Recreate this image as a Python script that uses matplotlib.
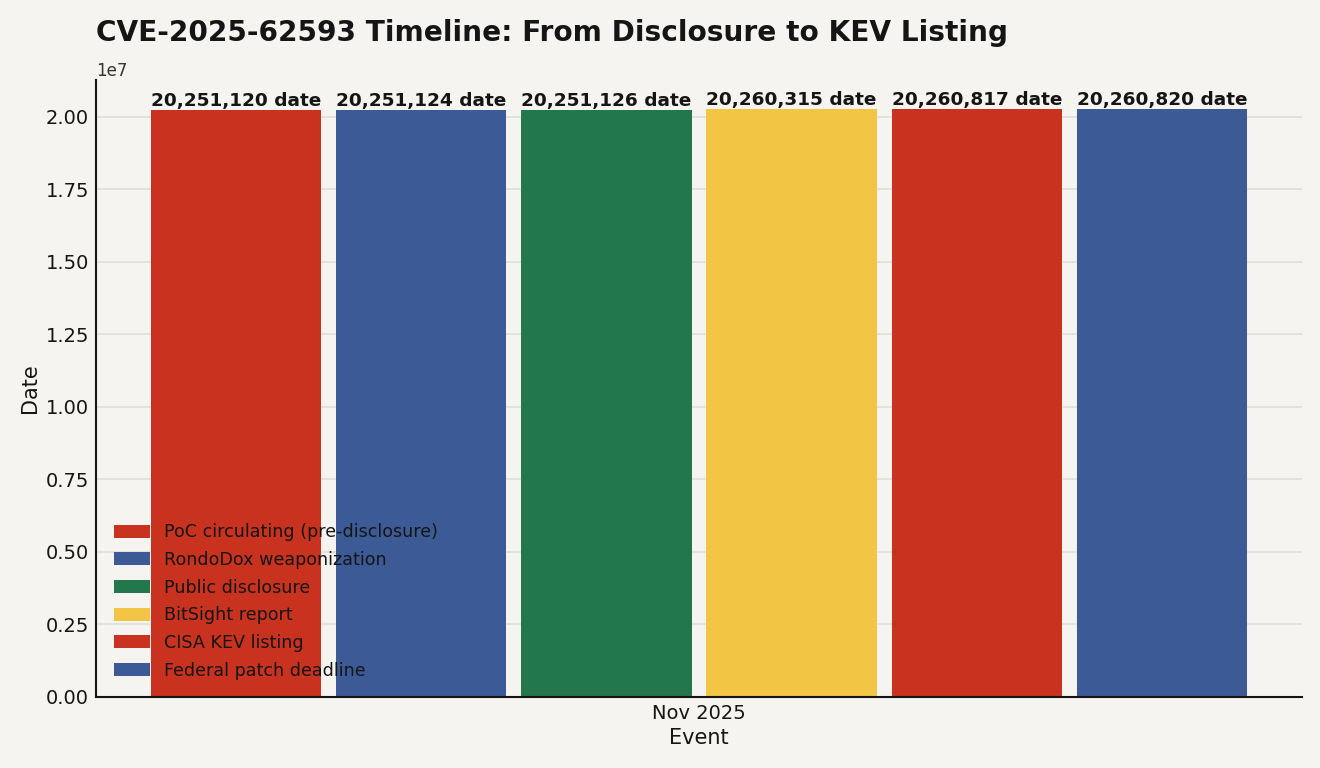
import numpy as np
import matplotlib
matplotlib.use("Agg")
from matplotlib import pyplot as plt

# Datos del grafico (fechas codificadas como numero AAAAMMDD)
eventos = ["PoC circulating (pre-disclosure)", "RondoDox weaponization",
           "Public disclosure", "BitSight report", "CISA KEV listing",
           "Federal patch deadline"]
valores = [20251120, 20251124, 20251126, 20260315, 20260817, 20260820]
colores = ["#C8321F", "#3C5A96", "#22784C", "#F3C544", "#C8321F", "#3C5A96"]
etiqueta_x = ["Nov 2025"]

fondo = "#F5F4F0"
texto = "#151515"

fig = plt.figure(figsize=(13.2, 7.68), dpi=100, facecolor=fondo)
ax = fig.add_axes([96/1320, 1 - 697/768, (1302-96)/1320, (697-80)/768])
ax.set_facecolor(fondo)

n = len(valores)
paso = 1.0 / n
ancho = paso * 0.92
for i in range(n):
    x = (i - (n - 1) / 2) * paso
    ax.bar(x, valores[i], width=ancho, color=colores[i], label=eventos[i], zorder=2)
    ax.text(x, valores[i], f"{valores[i]:,} date", ha="center", va="bottom",
            fontsize=13.3, fontweight="bold", color=texto)

ax.set_xlim(-0.5428, 0.5428)
ax.set_ylim(0, max(valores) * 1.05)
ax.set_xticks([0])
ax.set_xticklabels(etiqueta_x)
ax.tick_params(length=0, labelsize=14, colors=texto, pad=5)
ax.yaxis.get_offset_text().set_fontsize(12)
ax.yaxis.get_offset_text().set_color("#333333")

ax.grid(axis="y", color="#E0DED8", linewidth=1.2, zorder=0)
ax.set_axisbelow(True)
for s in ["top", "right"]:
    ax.spines[s].set_visible(False)
for s in ["left", "bottom"]:
    ax.spines[s].set_color(texto)
    ax.spines[s].set_linewidth(1.5)

ax.set_xlabel("Event", fontsize=15, color=texto, labelpad=4)
ax.set_ylabel("Date", fontsize=15, color=texto, labelpad=4)
ax.set_title("CVE-2025-62593 Timeline: From Disclosure to KEV Listing", loc="left",
             fontsize=20.2, fontweight="bold", color=texto, pad=28)

ax.legend(loc="lower left", frameon=False, fontsize=12.6, handlelength=2.1,
          handleheight=0.75, labelspacing=0.55, borderaxespad=0.6, labelcolor=texto)

fig.savefig("out.png", dpi=100, facecolor=fondo)
